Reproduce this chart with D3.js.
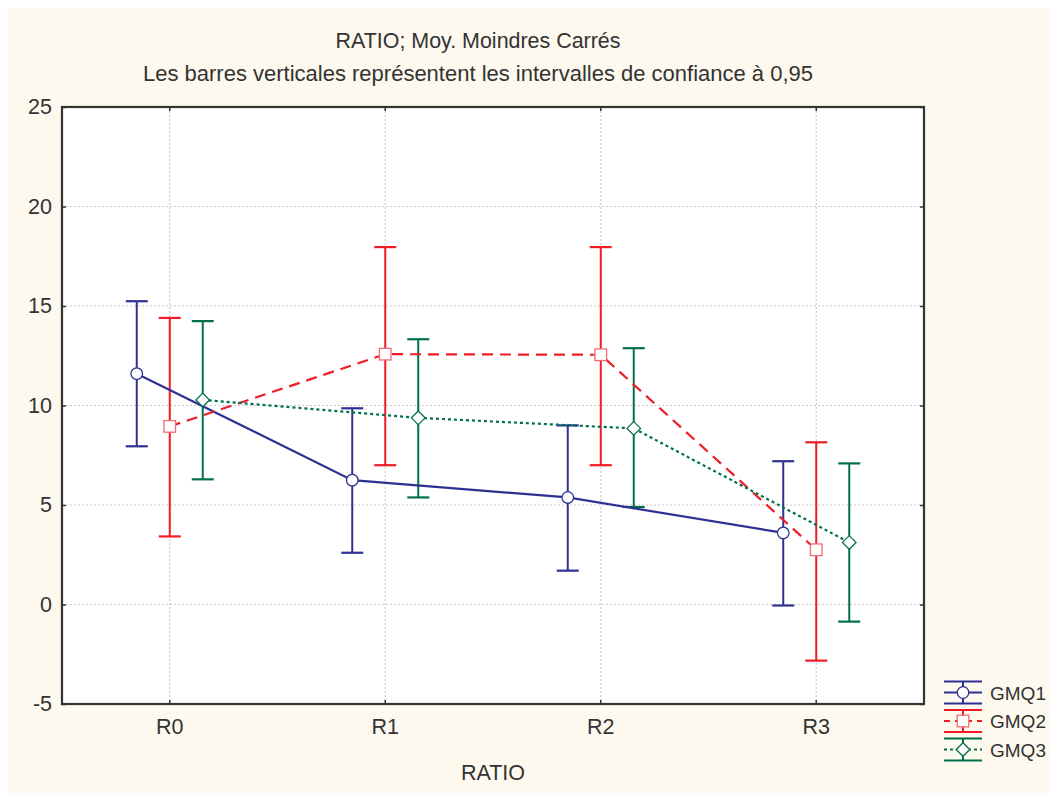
<!DOCTYPE html>
<html><head><meta charset="utf-8">
<script src="https://cdn.jsdelivr.net/npm/d3@7/dist/d3.min.js"></script>
<style>
html,body{margin:0;padding:0;background:#fff;}
text{font-family:"Liberation Sans",Arial,sans-serif;fill:#333;}
</style></head>
<body>
<svg id="chart" width="1050" height="793"></svg>
<script>
const categories = ["R0","R1","R2","R3"];
const seriesNames = ["GMQ1","GMQ2","GMQ3"];
const gmq1Mean = [11.6, 6.25, 5.38, 3.6];
const gmq1Low  = [7.95, 2.6, 1.7, -0.05];
const gmq1High = [15.24, 9.86, 9.0, 7.2];
const gmq2Mean = [8.95, 12.58, 12.55, 2.75];
const gmq2Low  = [3.42, 7.0, 7.0, -2.82];
const gmq2High = [14.4, 17.96, 17.96, 8.15];
const gmq3Mean = [10.28, 9.38, 8.85, 3.12];
const gmq3Low  = [6.29, 5.38, 4.9, -0.86];
const gmq3High = [14.24, 13.33, 12.88, 7.09];
const yTicks = [-5, 0, 5, 10, 15, 20, 25];

const series = [
  {name: seriesNames[0], mean: gmq1Mean, low: gmq1Low, high: gmq1High, color: "#2f3192", dash: null, marker: "circle"},
  {name: seriesNames[1], mean: gmq2Mean, low: gmq2Low, high: gmq2High, color: "#ee1c25", dash: "11,7", marker: "square"},
  {name: seriesNames[2], mean: gmq3Mean, low: gmq3Low, high: gmq3High, color: "#00704a", dash: "3,3", marker: "diamond"}
];

const FS = 21.5;
const svg = d3.select("#chart");
svg.append("rect").attr("x",8).attr("y",8).attr("width",1042).attr("height",785).attr("fill","#fdf9ee");

const L = 62, R = 924, T = 107, B = 704;
const x = d3.scaleBand().domain(categories).range([L, R]);
const y = d3.scaleLinear().domain([-5, 25]).range([B, T]);
const offset = d3.scalePoint().domain(seriesNames).range([-33, 33]);

svg.append("rect").attr("x",L).attr("y",T).attr("width",R-L).attr("height",B-T).attr("fill","#fff");

// gridlines
const grid = svg.append("g");
grid.selectAll("line.h").data(yTicks.filter(t => t > -5 && t < 25)).join("line")
  .attr("x1", L).attr("x2", R).attr("y1", d => y(d)).attr("y2", d => y(d))
  .attr("stroke", "#cfc8c8").attr("stroke-width", 1.2).attr("stroke-dasharray", "2,2");
grid.selectAll("line.v").data(categories).join("line")
  .attr("x1", d => x(d) + x.bandwidth()/2).attr("x2", d => x(d) + x.bandwidth()/2)
  .attr("y1", T).attr("y2", B)
  .attr("stroke", "#cfc8c8").attr("stroke-width", 1.2).attr("stroke-dasharray", "2,2");

// axes
const yAxis = d3.axisLeft(y).tickValues(yTicks).tickSize(-4).tickPadding(10).tickFormat(d => String(d));
const gy = svg.append("g").attr("transform", `translate(${L},0)`).call(yAxis);
gy.select(".domain").remove();
gy.selectAll("line").attr("stroke", "#333").attr("stroke-width", 1.5);
gy.selectAll("text").attr("font-size", FS).style("fill","#333").attr("font-family","Liberation Sans, Arial, sans-serif");

const yAxisR = d3.axisRight(y).tickValues(yTicks).tickSize(-4).tickFormat("");
const gyr = svg.append("g").attr("transform", `translate(${R},0)`).call(yAxisR);
gyr.select(".domain").remove();
gyr.selectAll("line").attr("stroke", "#333").attr("stroke-width", 1.5);

const xAxis = d3.axisBottom(x).tickSize(-4).tickPadding(15);
const gx = svg.append("g").attr("transform", `translate(0,${B})`).call(xAxis);
gx.select(".domain").remove();
gx.selectAll("line").attr("stroke", "#333").attr("stroke-width", 1.5);
gx.selectAll("text").attr("font-size", FS).style("fill","#333").attr("font-family","Liberation Sans, Arial, sans-serif");

const xAxisT = d3.axisTop(x).tickSize(-4).tickFormat("");
const gxt = svg.append("g").attr("transform", `translate(0,${T})`).call(xAxisT);
gxt.select(".domain").remove();
gxt.selectAll("line").attr("stroke", "#333").attr("stroke-width", 1.5);

svg.append("rect").attr("x",L).attr("y",T).attr("width",R-L).attr("height",B-T)
  .attr("fill","none").attr("stroke","#333").attr("stroke-width",2.2);

const px = (s, i) => x(categories[i]) + x.bandwidth()/2 + offset(s.name);
const cap = 11;

function drawMarker(g, type, cx, cy, color) {
  if (type === "circle") {
    g.append("circle").attr("cx", cx).attr("cy", cy).attr("r", 5.8)
      .attr("fill", "#fff").attr("stroke", color).attr("stroke-width", 1.3);
  } else if (type === "square") {
    g.append("rect").attr("x", cx-5.8).attr("y", cy-5.8).attr("width", 11.6).attr("height", 11.6)
      .attr("fill", "#fff").attr("stroke", "#f26b73").attr("stroke-width", 1.3);
  } else {
    g.append("path").attr("d", `M${cx},${cy-6.8}L${cx+6.8},${cy}L${cx},${cy+6.8}L${cx-6.8},${cy}Z`)
      .attr("fill", "#fff").attr("stroke", color).attr("stroke-width", 1.3);
  }
}

const plot = svg.append("g");
series.forEach(s => {
  const g = plot.append("g");
  categories.forEach((c, i) => {
    const cx = px(s, i);
    g.append("line").attr("x1", cx).attr("x2", cx).attr("y1", y(s.low[i])).attr("y2", y(s.high[i]))
      .attr("stroke", s.color).attr("stroke-width", 2);
    [s.low[i], s.high[i]].forEach(v => {
      g.append("line").attr("x1", cx-cap).attr("x2", cx+cap).attr("y1", y(v)).attr("y2", y(v))
        .attr("stroke", s.color).attr("stroke-width", 2.2);
    });
  });
});
series.forEach(s => {
  const line = d3.line().x((d, i) => px(s, i)).y(d => y(d));
  plot.append("path").datum(s.mean).attr("d", line).attr("fill", "none")
    .attr("stroke", s.color).attr("stroke-width", 2.2)
    .attr("stroke-dasharray", s.dash);
});
series.forEach(s => {
  s.mean.forEach((v, i) => drawMarker(plot, s.marker, px(s, i), y(v), s.color));
});

// titles
svg.append("text").attr("x", 478).attr("y", 48).attr("text-anchor", "middle").attr("font-size", FS)
  .attr("textLength", 285).attr("lengthAdjust", "spacingAndGlyphs")
  .text("RATIO; Moy. Moindres Carrés");
svg.append("text").attr("x", 478).attr("y", 81).attr("text-anchor", "middle").attr("font-size", FS)
  .attr("textLength", 670).attr("lengthAdjust", "spacingAndGlyphs")
  .text("Les barres verticales représentent les intervalles de confiance à 0,95");
svg.append("text").attr("x", (L+R)/2).attr("y", 780).attr("text-anchor", "middle").attr("font-size", FS)
  .text("RATIO");

// legend
const leg = svg.append("g");
series.forEach((s, k) => {
  const cy = 692.5 + k*28.5;
  const lx1 = 944, lx2 = 982, lc = 963;
  const g = leg.append("g");
  g.append("line").attr("x1", lx1).attr("x2", lx2).attr("y1", cy-11).attr("y2", cy-11).attr("stroke", s.color).attr("stroke-width", 2);
  g.append("line").attr("x1", lx1).attr("x2", lx2).attr("y1", cy+11).attr("y2", cy+11).attr("stroke", s.color).attr("stroke-width", 2);
  g.append("line").attr("x1", lc).attr("x2", lc).attr("y1", cy-11).attr("y2", cy+11).attr("stroke", s.color).attr("stroke-width", 2);
  g.append("line").attr("x1", lx1).attr("x2", lx2).attr("y1", cy).attr("y2", cy).attr("stroke", s.color).attr("stroke-width", 2)
    .attr("stroke-dasharray", s.dash ? (k===1 ? "6,5" : "3,3") : null);
  drawMarker(g, s.marker, lc, cy, s.color);
  g.append("text").attr("x", 990).attr("y", cy+7).attr("font-size", 19).text(s.name);
});
</script>
</body></html>
